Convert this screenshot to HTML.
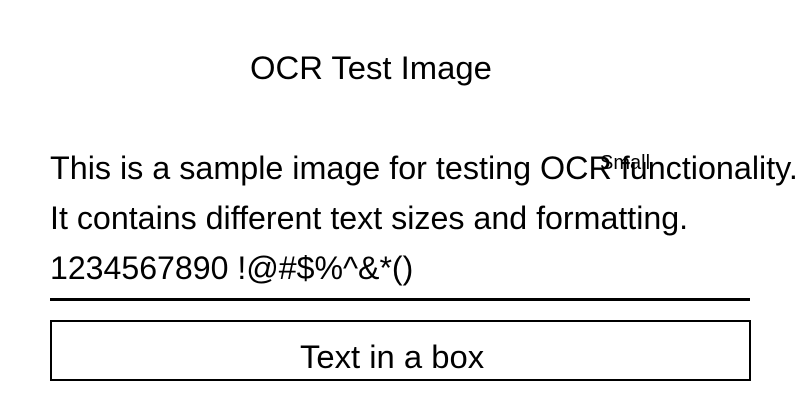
<!DOCTYPE html>
<html><head><style>
body{margin:0;width:800px;height:400px;background:#fff;position:relative;overflow:hidden;font-family:"Liberation Sans",Arial,sans-serif;color:#000}
.t{position:absolute;line-height:1;white-space:nowrap;font-size:32.3px}
</style></head><body>
<div class="t" style="left:250px;top:52px;font-size:32.8px">OCR Test Image</div>
<div class="t" style="left:50px;top:152px">This is a sample image for testing OCR functionality.</div>
<div class="t" style="left:600px;top:153px;font-size:20px">Small</div>
<div class="t" style="left:50px;top:202px;font-size:32.2px">It contains different text sizes and formatting.</div>
<div class="t" style="left:50px;top:252px;font-size:32.1px">1234567890 !@#$%^&amp;*()</div>
<div style="position:absolute;left:50px;top:298px;width:700px;height:3px;background:#000"></div>
<div style="position:absolute;left:50px;top:320px;width:697px;height:57px;border:2px solid #000"></div>
<div class="t" style="left:300px;top:341px;font-size:32.8px">Text in a box</div>
</body></html>
